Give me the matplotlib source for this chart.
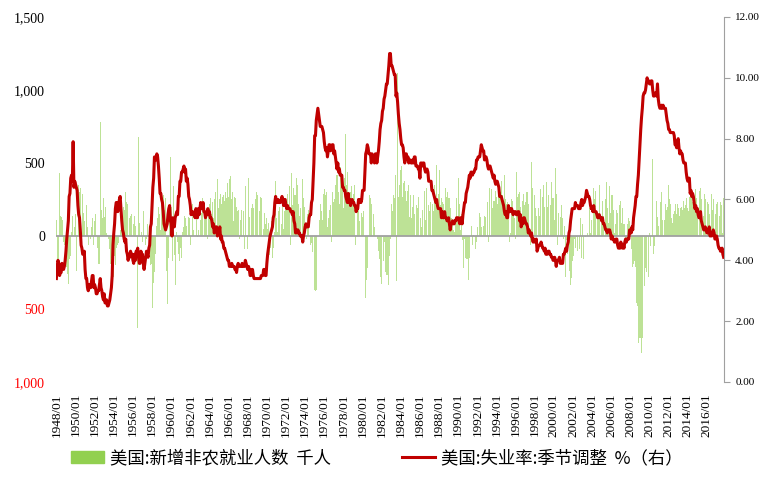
import matplotlib
matplotlib.use("Agg")
import matplotlib.pyplot as plt
from matplotlib.patches import Patch
from matplotlib.lines import Line2D
import numpy as np

# Monthly data, 1948/01 - 2017/10
start_year = 1948

# US nonfarm payroll change, thousands (one row per year)
payrolls = [
    110, -280, 120, -230, 430, 140, 130, 70, 110, -40, -60, -150,      # 1948
    -300, -210, -260, -330, -160, -190, -140, 30, 140, -830, 430, 60,  # 1949
    150, -240, 620, 280, 350, 300, 330, 660, 740, 290, 160, 100,       # 1950
    430, 310, 210, 60, -60, -30, -50, -20, 60, 120, 80, -60,           # 1951
    100, 150, 10, 60, -80, -190, -190, 780, 440, 180, 120, 260,        # 1952
    130, 120, 200, 20, 10, -20, 30, -90, -190, -150, -290, -300,       # 1953
    -280, -140, -200, -80, -120, -60, -50, -10, 40, 80, 150, 130,      # 1954
    200, 180, 250, 300, 230, 220, 170, 160, 120, 140, 150, 170,        # 1955
    100, 80, 140, 70, 80, 70, -630, 680, 90, 40, 20, 30,               # 1956
    -40, 170, 20, -20, -60, -20, 80, -50, -120, -120, -200, -190,      # 1957
    -300, -495, -320, -250, -120, 20, 70, 120, 200, 150, 340, 40,      # 1958
    210, 170, 280, 250, 180, 260, -240, -465, 80, -150, 140, 540,      # 1959
    200, 40, -170, 340, -130, -335, -80, 30, -40, -120, -170, -190,    # 1960
    -80, -150, 30, 60, 100, 140, 120, 70, 20, 150, 130, 120,           # 1961
    -60, 330, 150, 220, 40, 0, 90, 30, 130, -10, 40, -40,              # 1962
    70, 110, 160, 260, 70, 110, 130, 170, 180, 150, -20, 190,          # 1963
    220, 260, 80, 150, 230, 120, 250, 150, 300, 70, 390, 190,          # 1964
    170, 250, 290, 220, 270, 230, 280, 240, 300, 260, 330, 360,        # 1965
    270, 390, 410, 220, 250, 300, 100, 270, 180, 260, 200, 170,        # 1966
    180, 80, -20, 110, 180, 180, 240, 170, -90, 340, 470, 260,         # 1967
    -90, 400, 130, 200, 190, 190, 220, 190, 130, 250, 250, 300,        # 1968
    280, 230, 210, 170, 270, 260, 210, 240, 50, 160, 80, 100,          # 1969
    120, 50, 90, -130, -120, -80, 100, -150, -80, -435, 30, 380,       # 1970
    120, 30, 40, 170, 200, -10, 80, 60, 230, 50, 170, 240,             # 1971
    260, 230, 290, 210, 340, 220, -60, 430, 210, 330, 280, 280,        # 1972
    280, 400, 350, 190, 220, 140, 190, 200, 190, 390, 260, 200,        # 1973
    130, 170, -20, 150, 180, 70, 40, -60, -50, -110, -390, -598,       # 1974
    -370, -380, -370, -100, 100, 0, 110, 220, 190, 170, 110, 290,      # 1975
    320, 300, 280, 300, 60, 120, 130, 180, 210, -40, 300, 320,         # 1976
    230, 250, 350, 420, 340, 420, 300, 220, 470, 300, 360, 340,        # 1977
    190, 400, 480, 700, 350, 440, 230, 240, 300, 300, 340, 210,        # 1978
    250, 290, 350, -60, 380, 300, 200, 220, 100, 180, 130, 160,        # 1979
    130, 170, 40, -240, -427, -300, -220, 240, 110, 280, 260, 220,     # 1980
    90, 90, 150, 60, 0, 180, 100, -20, -100, -160, -230, -280,         # 1981
    -330, -10, -170, -320, -40, -250, -270, -270, -180, -335, -140, -20,  # 1982
    220, -70, 170, 280, 260, 420, 410, -308, 1114, 270, 350, 360,      # 1983
    450, 476, 270, 360, 330, 380, 310, 240, 310, 280, 350, 130,        # 1984
    280, 120, 340, 200, 280, 150, 180, 200, 210, 190, 270, 210,        # 1985
    170, 120, 60, 180, 120, -91, 310, 110, 330, 160, 160, 210,         # 1986
    170, 230, 240, 340, 220, 170, 350, 170, 230, 485, 250, 290,        # 1987
    90, 450, 210, 260, 230, 360, 220, 130, 330, 270, 340, 300,         # 1988
    260, 260, 190, 170, 120, 110, 40, 30, 260, 110, 260, 120,          # 1989
    400, 240, 220, 40, 150, -30, -20, -220, -20, -150, -160, -70,      # 1990
    -160, -300, -150, -200, -60, 70, -60, 10, -20, 40, -90, -40,       # 1991
    60, -70, 50, 160, 130, 60, 70, 150, 70, 140, 130, 210,             # 1992
    290, 230, -41, 330, 290, 210, 320, 190, 240, 300, 240, 310,        # 1993
    270, 220, 467, 350, 340, 300, 380, 260, 280, 220, 420, 250,        # 1994
    330, 220, 230, 170, -40, 270, 20, 250, 240, 140, 170, 120,         # 1995
    -20, 440, 270, 140, 290, 300, 200, 150, 170, 240, 290, 210,        # 1996
    230, 310, 300, 300, 220, 260, 290, -60, 510, 330, 300, 300,        # 1997
    280, 190, 140, 290, 390, 190, 140, 320, 220, 190, 270, 350,        # 1998
    200, 440, 110, 370, 200, 280, 330, 120, 210, 370, 260, 300,        # 1999
    260, 110, 465, 290, 200, -60, 160, 0, 130, 10, 210, 120,           # 2000
    -20, 70, -30, -280, -30, -120, -40, -150, -240, -335, -290, -170,  # 2001
    -130, -140, -20, -80, -10, 40, -100, 0, -90, 120, 20, -150,        # 2002
    80, -160, -210, -50, -10, 0, 20, -40, 100, 190, 20, 110,           # 2003
    160, 40, 330, 250, 310, 80, 50, 120, 160, 350, 60, 130,            # 2004
    130, 240, 140, 360, 170, 250, 370, 190, 70, 90, 340, 160,          # 2005
    280, 310, 280, 180, 20, 80, 210, 180, 160, 0, 210, 170,            # 2006
    240, 90, 190, 80, 140, 80, -30, -20, 80, 80, 120, 100,             # 2007
    20, -90, -80, -210, -190, -170, -210, -270, -461, -480, -730, -700,  # 2008
    -815, -700, -800, -700, -370, -470, -340, -220, -250, -200, 10, -280,  # 2009
    20, -70, 160, 250, 530, -120, -70, -40, -60, 240, 130, 70,         # 2010
    40, 200, 230, 300, 110, 220, 70, 110, 220, 180, 140, 200,          # 2011
    350, 250, 220, 60, 120, 90, 150, 170, 150, 220, 150, 220,          # 2012
    190, 280, 140, 190, 200, 180, 140, 240, 190, 210, 260, 80,         # 2013
    190, 170, 270, 330, 250, 290, 230, 190, 270, 240, 320, 260,        # 2014
    200, 260, 70, 310, 330, 250, 280, 160, 140, 290, 250, 260,         # 2015
    120, 230, 220, 150, 40, 290, 290, 180, 250, 120, 160, 150,         # 2016
    220, 230, 70, 190, 140, 230, 210, 220, 20, 260,                    # 2017
]

# US unemployment rate, seasonally adjusted, %
unemployment = [
    3.4, 3.8, 4.0, 3.9, 3.5, 3.6, 3.6, 3.9, 3.8, 3.7, 3.8, 4.0,        # 1948
    4.3, 4.7, 5.0, 5.3, 6.1, 6.2, 6.7, 6.8, 6.6, 7.9, 6.4, 6.6,        # 1949
    6.5, 6.4, 6.3, 5.8, 5.5, 5.4, 5.0, 4.5, 4.4, 4.2, 4.2, 4.3,        # 1950
    3.7, 3.4, 3.4, 3.1, 3.0, 3.2, 3.1, 3.1, 3.3, 3.5, 3.5, 3.1,        # 1951
    3.2, 3.1, 2.9, 2.9, 3.0, 3.0, 3.2, 3.4, 3.1, 3.0, 2.8, 2.7,        # 1952
    2.9, 2.6, 2.6, 2.7, 2.5, 2.5, 2.6, 2.7, 2.9, 3.1, 3.5, 4.5,        # 1953
    4.9, 5.2, 5.7, 5.9, 5.9, 5.6, 5.8, 6.0, 6.1, 5.7, 5.3, 5.0,        # 1954
    4.9, 4.7, 4.6, 4.7, 4.3, 4.2, 4.0, 4.2, 4.1, 4.3, 4.2, 4.2,        # 1955
    4.0, 3.9, 4.2, 4.0, 4.3, 4.3, 4.4, 4.1, 3.9, 3.9, 4.3, 4.2,        # 1956
    4.2, 3.9, 3.7, 3.9, 4.1, 4.3, 4.2, 4.1, 4.4, 4.5, 5.1, 5.2,        # 1957
    5.8, 6.4, 6.7, 7.4, 7.4, 7.3, 7.5, 7.4, 7.1, 6.7, 6.2, 6.2,        # 1958
    6.0, 5.9, 5.6, 5.2, 5.1, 5.0, 5.1, 5.2, 5.5, 5.7, 5.8, 5.3,        # 1959
    5.2, 4.8, 5.4, 5.2, 5.1, 5.4, 5.5, 5.6, 5.5, 6.1, 6.1, 6.6,        # 1960
    6.6, 6.9, 6.9, 7.0, 7.1, 6.9, 7.0, 6.6, 6.7, 6.5, 6.1, 6.0,        # 1961
    5.8, 5.5, 5.6, 5.6, 5.5, 5.5, 5.4, 5.7, 5.6, 5.4, 5.7, 5.5,        # 1962
    5.7, 5.9, 5.7, 5.7, 5.9, 5.6, 5.6, 5.4, 5.5, 5.5, 5.7, 5.5,        # 1963
    5.6, 5.4, 5.4, 5.3, 5.1, 5.2, 4.9, 5.0, 5.1, 5.1, 4.8, 5.0,        # 1964
    4.9, 5.1, 4.7, 4.8, 4.6, 4.6, 4.4, 4.4, 4.3, 4.2, 4.1, 4.0,        # 1965
    4.0, 3.8, 3.8, 3.8, 3.9, 3.8, 3.8, 3.8, 3.7, 3.7, 3.6, 3.8,        # 1966
    3.9, 3.8, 3.8, 3.8, 3.8, 3.9, 3.8, 3.8, 3.8, 4.0, 3.9, 3.8,        # 1967
    3.7, 3.8, 3.7, 3.5, 3.5, 3.7, 3.7, 3.5, 3.4, 3.4, 3.4, 3.4,        # 1968
    3.4, 3.4, 3.4, 3.4, 3.4, 3.5, 3.5, 3.5, 3.7, 3.7, 3.5, 3.5,        # 1969
    3.9, 4.2, 4.4, 4.6, 4.8, 4.9, 5.0, 5.1, 5.4, 5.5, 5.9, 6.1,        # 1970
    5.9, 5.9, 6.0, 5.9, 5.9, 5.9, 6.0, 6.1, 6.0, 5.8, 6.0, 6.0,        # 1971
    5.8, 5.7, 5.8, 5.7, 5.7, 5.7, 5.6, 5.6, 5.5, 5.6, 5.3, 5.2,        # 1972
    4.9, 5.0, 4.9, 5.0, 4.9, 4.9, 4.8, 4.8, 4.8, 4.6, 4.8, 4.9,        # 1973
    5.1, 5.2, 5.1, 5.1, 5.1, 5.4, 5.5, 5.5, 5.9, 6.0, 6.6, 7.2,        # 1974
    8.1, 8.1, 8.6, 8.8, 9.0, 8.8, 8.6, 8.4, 8.4, 8.4, 8.3, 8.2,        # 1975
    7.9, 7.7, 7.6, 7.7, 7.4, 7.6, 7.8, 7.8, 7.6, 7.7, 7.8, 7.8,        # 1976
    7.5, 7.6, 7.4, 7.2, 7.0, 7.2, 6.9, 7.0, 6.8, 6.8, 6.8, 6.4,        # 1977
    6.4, 6.3, 6.3, 6.1, 6.0, 5.9, 6.2, 5.9, 6.0, 5.8, 5.9, 6.0,        # 1978
    5.9, 5.9, 5.8, 5.8, 5.6, 5.7, 5.7, 6.0, 5.9, 6.0, 5.9, 6.0,        # 1979
    6.3, 6.3, 6.3, 6.9, 7.5, 7.6, 7.8, 7.7, 7.5, 7.5, 7.5, 7.2,        # 1980
    7.5, 7.4, 7.4, 7.2, 7.5, 7.5, 7.2, 7.4, 7.6, 7.9, 8.3, 8.5,        # 1981
    8.6, 8.9, 9.0, 9.3, 9.4, 9.6, 9.8, 9.8, 10.1, 10.4, 10.8, 10.8,    # 1982
    10.4, 10.4, 10.3, 10.2, 10.1, 10.1, 9.4, 9.5, 9.2, 8.8, 8.5, 8.3,  # 1983
    8.0, 7.8, 7.8, 7.7, 7.4, 7.2, 7.5, 7.5, 7.3, 7.4, 7.2, 7.3,        # 1984
    7.3, 7.2, 7.2, 7.3, 7.2, 7.4, 7.4, 7.1, 7.1, 7.1, 7.0, 7.0,        # 1985
    6.7, 7.2, 7.2, 7.1, 7.2, 7.2, 7.0, 6.9, 7.0, 7.0, 6.9, 6.6,        # 1986
    6.6, 6.6, 6.6, 6.3, 6.3, 6.2, 6.1, 6.0, 5.9, 6.0, 5.8, 5.7,        # 1987
    5.7, 5.7, 5.7, 5.4, 5.6, 5.4, 5.4, 5.6, 5.4, 5.4, 5.3, 5.3,        # 1988
    5.4, 5.2, 5.0, 5.2, 5.2, 5.3, 5.2, 5.2, 5.3, 5.3, 5.4, 5.4,        # 1989
    5.4, 5.3, 5.2, 5.4, 5.4, 5.2, 5.5, 5.7, 5.9, 5.9, 6.2, 6.3,        # 1990
    6.4, 6.6, 6.8, 6.7, 6.9, 6.9, 6.8, 6.9, 6.9, 7.0, 7.0, 7.3,        # 1991
    7.3, 7.4, 7.4, 7.4, 7.6, 7.8, 7.7, 7.6, 7.6, 7.3, 7.4, 7.4,        # 1992
    7.3, 7.1, 7.0, 7.1, 7.1, 7.0, 6.9, 6.8, 6.7, 6.8, 6.6, 6.5,        # 1993
    6.6, 6.6, 6.5, 6.4, 6.1, 6.1, 6.1, 6.0, 5.9, 5.8, 5.6, 5.5,        # 1994
    5.6, 5.4, 5.4, 5.8, 5.6, 5.6, 5.7, 5.7, 5.6, 5.5, 5.6, 5.6,        # 1995
    5.6, 5.5, 5.5, 5.6, 5.6, 5.3, 5.5, 5.1, 5.2, 5.2, 5.4, 5.4,        # 1996
    5.3, 5.2, 5.2, 5.1, 4.9, 5.0, 4.9, 4.8, 4.9, 4.7, 4.6, 4.7,        # 1997
    4.6, 4.6, 4.7, 4.3, 4.4, 4.5, 4.5, 4.5, 4.6, 4.5, 4.4, 4.4,        # 1998
    4.3, 4.4, 4.2, 4.3, 4.2, 4.3, 4.3, 4.2, 4.2, 4.1, 4.1, 4.0,        # 1999
    4.0, 4.1, 4.0, 3.8, 4.0, 4.0, 4.0, 4.1, 3.9, 3.9, 3.9, 3.9,        # 2000
    4.2, 4.2, 4.3, 4.4, 4.3, 4.5, 4.6, 4.9, 5.0, 5.3, 5.5, 5.7,        # 2001
    5.7, 5.7, 5.7, 5.9, 5.8, 5.8, 5.8, 5.7, 5.7, 5.7, 5.9, 6.0,        # 2002
    5.8, 5.9, 5.9, 6.0, 6.1, 6.3, 6.2, 6.1, 6.1, 6.0, 5.8, 5.7,        # 2003
    5.7, 5.6, 5.8, 5.6, 5.6, 5.6, 5.5, 5.4, 5.4, 5.5, 5.4, 5.4,        # 2004
    5.3, 5.4, 5.2, 5.2, 5.1, 5.0, 5.0, 4.9, 5.0, 5.0, 5.0, 4.9,        # 2005
    4.7, 4.8, 4.7, 4.7, 4.6, 4.6, 4.7, 4.7, 4.5, 4.4, 4.5, 4.4,        # 2006
    4.6, 4.5, 4.4, 4.5, 4.4, 4.6, 4.7, 4.6, 4.7, 4.7, 4.7, 5.0,        # 2007
    5.0, 4.9, 5.1, 5.0, 5.4, 5.6, 5.8, 6.1, 6.1, 6.5, 6.8, 7.3,        # 2008
    7.8, 8.3, 8.7, 9.0, 9.4, 9.5, 9.5, 9.6, 9.8, 10.0, 9.9, 9.9,       # 2009
    9.8, 9.8, 9.9, 9.9, 9.6, 9.4, 9.4, 9.5, 9.5, 9.4, 9.8, 9.3,        # 2010
    9.1, 9.0, 9.0, 9.1, 9.0, 9.1, 9.0, 9.0, 9.0, 8.8, 8.6, 8.5,        # 2011
    8.3, 8.3, 8.2, 8.2, 8.2, 8.2, 8.2, 8.1, 7.8, 7.8, 7.7, 7.9,        # 2012
    8.0, 7.7, 7.5, 7.6, 7.5, 7.5, 7.3, 7.2, 7.2, 7.2, 6.9, 6.7,        # 2013
    6.6, 6.7, 6.7, 6.2, 6.3, 6.1, 6.2, 6.1, 5.9, 5.7, 5.8, 5.6,        # 2014
    5.7, 5.5, 5.4, 5.4, 5.6, 5.3, 5.2, 5.1, 5.0, 5.0, 5.1, 5.0,        # 2015
    4.9, 4.9, 5.0, 5.1, 4.8, 4.9, 4.8, 4.9, 5.0, 4.9, 4.7, 4.7,        # 2016
    4.8, 4.7, 4.5, 4.4, 4.4, 4.3, 4.3, 4.4, 4.2, 4.1,                  # 2017
]

months = [f"{y}/{m:02d}" for y in range(start_year, 2018) for m in range(1, 13)]
months = months[:len(unemployment)]
assert len(payrolls) == len(unemployment) == len(months)

x = np.arange(len(months))

fig = plt.figure(figsize=(7.67, 4.8), dpi=100)
ax = fig.add_axes([0.073, 0.2042, 0.871, 0.7604])

# bars for payroll changes (left axis)
ax.bar(x, payrolls, width=0.9, color="#92d050", alpha=0.6, linewidth=0, zorder=2)
ax.axhline(0, color="#a0a0a0", lw=1.3, zorder=3)
ax.set_ylim(-1000, 1500)
ax.set_xlim(-0.5, len(x) - 0.5)
yt = [-1000, -500, 0, 500, 1000, 1500]
ax.set_yticks(yt)
ax.set_yticklabels(["1,000", "500", "0", "500", "1,000", "1,500"],
                   fontfamily="Liberation Serif", fontsize=10)
for lab, v in zip(ax.get_yticklabels(), yt):
    if v < 0:
        lab.set_color("red")
ax.tick_params(axis="y", length=0, pad=8)

tick_idx = x[::24]
ax.set_xticks(tick_idx)
ax.set_xticklabels([months[i] for i in tick_idx], rotation=90,
                   fontfamily="Liberation Serif", fontsize=9.5)
ax.tick_params(axis="x", length=0, pad=8)
for s in ["left", "right", "top", "bottom"]:
    ax.spines[s].set_visible(False)

# unemployment rate (right axis)
ax2 = ax.twinx()
ax2.plot(x, unemployment, color="#c00000", lw=2.2, zorder=4)
ax2.set_ylim(0, 12)
ax2.set_yticks(np.arange(0, 12.1, 2))
ax2.set_yticklabels([f"{v:.2f}" for v in np.arange(0, 12.1, 2)],
                    fontfamily="Liberation Serif", fontsize=8)
ax2.tick_params(axis="y", length=4, color="#a0a0a0", pad=4)
for s in ["left", "top", "bottom"]:
    ax2.spines[s].set_visible(False)
ax2.spines["right"].set_color("#a0a0a0")

cjk = ["Noto Sans CJK SC", "DejaVu Sans"]
fig.legend(handles=[Patch(color="#92d050")], labels=["美国:新增非农就业人数  千人"],
           loc="center left", bbox_to_anchor=(0.092, 0.045), frameon=False,
           prop={"family": cjk, "size": 12.5}, handlelength=1.9, handleheight=0.7,
           handletextpad=0.35, borderpad=0, borderaxespad=0)
fig.legend(handles=[Line2D([0], [0], color="#c00000", lw=2.2)],
           labels=["美国:失业率:季节调整  %（右）"],
           loc="center left", bbox_to_anchor=(0.524, 0.045), frameon=False,
           prop={"family": cjk, "size": 12.5}, handlelength=1.9,
           handletextpad=0.35, borderpad=0, borderaxespad=0)

fig.savefig("out.png", dpi=100)
